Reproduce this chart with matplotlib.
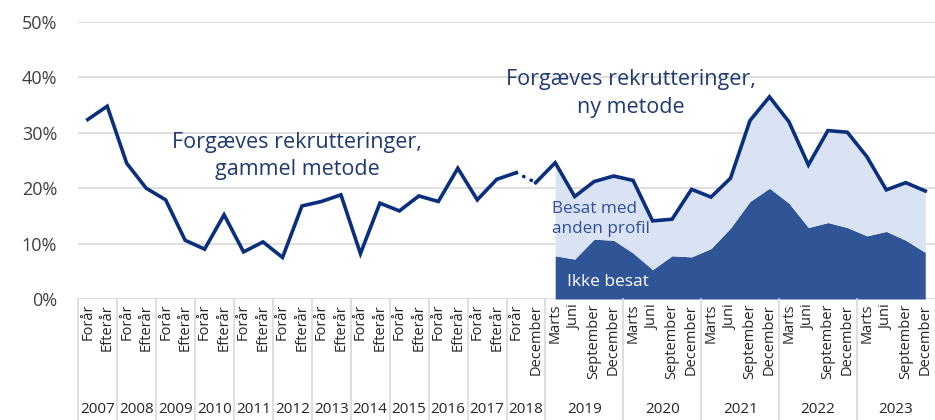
import matplotlib.pyplot as plt
import matplotlib.transforms as mtransforms

plt.rcParams['font.family'] = ['Open Sans', 'DejaVu Sans']

# category axis: (year, list of period labels)
year_groups = [
    ("2007", ["Forår", "Efterår"]),
    ("2008", ["Forår", "Efterår"]),
    ("2009", ["Forår", "Efterår"]),
    ("2010", ["Forår", "Efterår"]),
    ("2011", ["Forår", "Efterår"]),
    ("2012", ["Forår", "Efterår"]),
    ("2013", ["Forår", "Efterår"]),
    ("2014", ["Forår", "Efterår"]),
    ("2015", ["Forår", "Efterår"]),
    ("2016", ["Forår", "Efterår"]),
    ("2017", ["Forår", "Efterår"]),
    ("2018", ["Forår", "December"]),
    ("2019", ["Marts", "Juni", "September", "December"]),
    ("2020", ["Marts", "Juni", "September", "December"]),
    ("2021", ["Marts", "Juni", "September", "December"]),
    ("2022", ["Marts", "Juni", "September", "December"]),
    ("2023", ["Marts", "Juni", "September", "December"]),
]

# old method, 2007 Forår .. 2018 Forår
old_method = [32.4, 34.8, 24.5, 20.0, 17.9, 10.6, 9.0, 15.2, 8.5, 10.3,
              7.5, 16.8, 17.6, 18.8, 8.2, 17.3, 15.9, 18.6, 17.6, 23.6,
              17.9, 21.6, 22.8]

# new method, 2018 December .. 2023 December
new_method = [21.0, 24.6, 18.5, 21.2, 22.2, 21.4, 14.1, 14.4, 19.8, 18.4,
              21.8, 32.2, 36.5, 32.0, 24.2, 30.4, 30.1, 25.7, 19.7, 21.0,
              19.5]

# not filled, 2019 Marts .. 2023 December
ikke_besat = [7.8, 7.2, 10.8, 10.6, 8.3, 5.3, 7.8, 7.6, 9.1, 12.8,
              17.6, 20.0, 17.3, 12.9, 13.8, 12.9, 11.4, 12.2, 10.6, 8.4]

line_color = '#0a2f7d'
dark_fill = '#2f5597'
light_fill = '#dae3f3'
grid_color = '#d9d9d9'
text_grey = '#404040'

labels = []
years = []
for y, periods in year_groups:
    for p in periods:
        labels.append(p)
        years.append(y)
n = len(labels)

x_old = list(range(len(old_method)))
x_new = list(range(len(old_method), len(old_method) + len(new_method)))
x_area = x_new[1:]
total_area = new_method[1:]

fig = plt.figure(figsize=(9.35, 4.2), dpi=100)
ax = fig.add_axes([78 / 935, 1 - 299 / 420, 857 / 935, 277 / 420])

ax.fill_between(x_area, 0, ikke_besat, color=dark_fill, linewidth=0, zorder=2)
ax.fill_between(x_area, ikke_besat, total_area, color=light_fill, linewidth=0, zorder=2)

ax.plot(x_old, old_method, color=line_color, lw=2.6, solid_joinstyle='miter', zorder=3)
ax.plot(x_new, new_method, color=line_color, lw=2.6, solid_joinstyle='miter', zorder=3)
ax.plot([x_old[-1], x_new[0]], [old_method[-1], new_method[0]], color=line_color,
        lw=2.6, linestyle=(0, (0.1, 2.2)), dash_capstyle='round', zorder=3)

ax.set_xlim(-0.5, n - 0.5)
ax.set_ylim(0, 50)
ax.set_yticks([0, 10, 20, 30, 40, 50])
ax.set_yticklabels([f"{v}%" for v in [0, 10, 20, 30, 40, 50]], fontsize=13, color=text_grey)
ax.yaxis.grid(True, color=grid_color, lw=1.2, zorder=0)
ax.set_axisbelow(True)
ax.tick_params(axis='y', length=0, pad=15)
ax.set_xticks([])
for s in ['top', 'right', 'left', 'bottom']:
    ax.spines[s].set_visible(False)

# category labels
trans = mtransforms.blended_transform_factory(ax.transData, ax.transAxes)
for i, lab in enumerate(labels):
    ax.text(i, -0.018, lab, rotation=90, ha='center', va='top', fontsize=10.5,
            color='#262626', transform=trans)

# year labels and separators
start = 0
bounds = [-0.5]
for y, periods in year_groups:
    end = start + len(periods)
    ax.text((start + end - 1) / 2, -0.40, y, ha='center', va='center', fontsize=11,
            color='#262626', transform=trans)
    bounds.append(end - 0.5)
    start = end
for b in bounds[:-1]:
    ax.plot([b, b], [0, -0.44], color=grid_color, lw=1.2, transform=trans, clip_on=False)

ax.text(10.75, 25.8, "Forgæves rekrutteringer,\ngammel metode", ha='center', va='center',
        fontsize=15.5, color='#1f3a70', linespacing=1.4, zorder=4)
ax.text(27.9, 37.1, "Forgæves rekrutteringer,\nny metode", ha='center', va='center',
        fontsize=15.5, color='#1f3a70', linespacing=1.4, zorder=4)
ax.text(23.85, 14.4, "Besat med\nanden profil", ha='left', va='center',
        fontsize=12.3, color='#2f4f9a', linespacing=1.3, zorder=4)
ax.text(24.6, 3.1, "Ikke besat", ha='left', va='center',
        fontsize=12.5, color='white', zorder=4)

fig.savefig('out.png', dpi=100)
